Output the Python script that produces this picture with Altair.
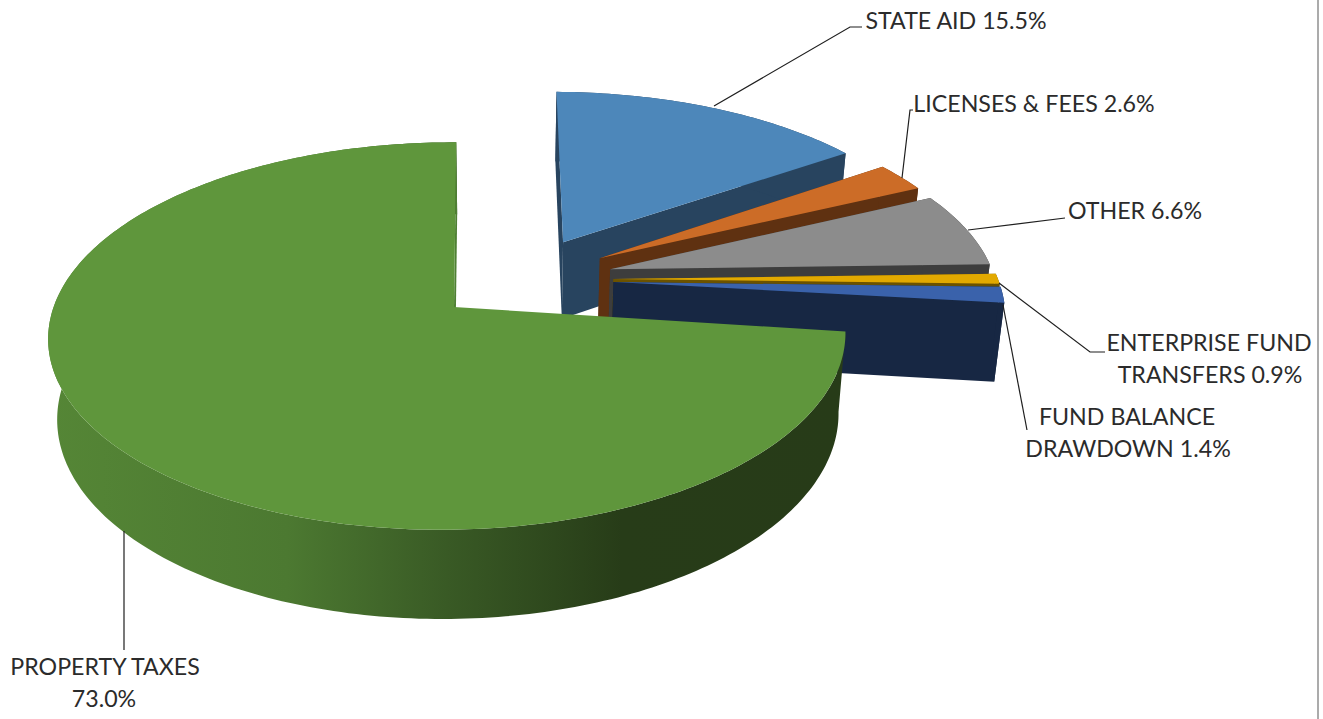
import math
import altair as alt

# Revenue sources, in the clockwise order the slices are laid out from 12 o'clock
names = ["STATE AID", "LICENSES & FEES", "OTHER", "ENTERPRISE FUND TRANSFERS",
         "FUND BALANCE DRAWDOWN", "PROPERTY TAXES"]
shares = [15.5, 2.6, 6.6, 0.9, 1.4, 73.0]
top_colors = ["#4d87ba", "#cc6c27", "#8c8c8c", "#e2a900", "#3a62ab", "#5f963c"]
side_colors = ["#28445f", "#5f3111", "#3d3d3d", "#6b5200", "#172743", "#4f8034"]

# Camera model: a plane homography for the pie top, then a shift for its thickness
W, H = 1323, 719
ORIGIN_X, ORIGIN_Y = 454.0, 307.0
SCALE_X, SCALE_Y, SHEAR = 396.0, 188.0, 5.0
TILT_Y, TILT_X = 0.146, 0.01
EXPLODE = 0.235
# Small lens corrections of each rim relative to its slice's apex
RIM_OFFSET_SMALL = (0.008, 0.012)
RIM_RADIUS_SMALL = (1.003, 1.003)
RIM_OFFSET_MAIN = (-0.006, -0.003)
RIM_RADIUS_MAIN = (0.995, 1.007)


def project(wx, wy):
    w = 1 + TILT_Y * wy + TILT_X * wx
    return ORIGIN_X + (SCALE_X * wx + SHEAR * wy) / w, ORIGIN_Y - SCALE_Y * wy / w


def lower(p):
    return p[0] + (500 - p[0]) * 0.02, p[1] + 78 + (p[1] - 280) * 0.045


def geo(p):
    return [round(p[0], 2), round(-p[1], 2)]


def polygon(points, fill):
    ring = [geo(p) for p in points]
    ring.append(ring[0])
    return {"type": "Feature", "properties": {"fill": fill},
            "geometry": {"type": "Polygon", "coordinates": [ring]}}


def polyline(points):
    return {"type": "Feature", "properties": {},
            "geometry": {"type": "LineString", "coordinates": [geo(p) for p in points]}}


def direction(deg):
    return math.sin(math.radians(deg)), math.cos(math.radians(deg))


# Angular extents follow directly from the shares
spans, start = [], 0.0
for s in shares:
    spans.append((start, start + s * 3.6))
    start += s * 3.6

gx, gy = direction(sum(spans[-1]) / 2)


def slice_parts(i):
    a0, a1 = spans[i]
    dx, dy = direction((a0 + a1) / 2)
    ax, ay = EXPLODE * (dx - gx), EXPLODE * (dy - gy)
    apex = project(ax, ay)
    main = i == len(shares) - 1
    (ox, oy), (rx, ry) = ((RIM_OFFSET_MAIN, RIM_RADIUS_MAIN) if main
                          else (RIM_OFFSET_SMALL, RIM_RADIUS_SMALL))
    n = max(4, int(a1 - a0))
    rim = []
    for k in range(n + 1):
        sx, sy = direction(a0 + (a1 - a0) * k / n)
        rim.append(project(ax + ox + rx * sx, ay + oy + ry * sy))
    top = polygon([apex] + rim, top_colors[i])
    face_a = polygon([apex, rim[0], lower(rim[0]), lower(apex)], side_colors[i])
    face_b = polygon([apex, rim[-1], lower(rim[-1]), lower(apex)], side_colors[i])
    wall = polygon(rim + [lower(p) for p in reversed(rim)], side_colors[i])
    return top, face_a, face_b, wall


back = [polygon([(0, 0), (W, 0), (W, H), (0, H)], "#ffffff")]
for i in range(5):
    top, face_a, face_b, wall = slice_parts(i)
    back += [face_a, face_b, wall, top]
green_top, _, green_face, green_wall = slice_parts(5)

leaders = [
    [(862, 27), (850, 27), (714, 106)],
    [(913, 110), (910, 110), (902, 178)],
    [(1065, 218), (968, 230)],
    [(1105, 352), (1090, 352), (999, 283)],
    [(1027, 430), (1003, 305)],
    [(124, 650), (124, 531)],
]
frame = [[(1318, 0), (1318, H)]]

label_rows = [
    {"text": f"{names[0]} {shares[0]}%", "x": 956, "y": 22},
    {"text": f"{names[1]} {shares[1]}%", "x": 1034, "y": 105},
    {"text": f"{names[2]} {shares[2]}%", "x": 1135, "y": 212},
    {"text": "ENTERPRISE FUND", "x": 1209, "y": 344},
    {"text": f"TRANSFERS {shares[3]}%", "x": 1210, "y": 376},
    {"text": "FUND BALANCE", "x": 1127, "y": 418},
    {"text": f"DRAWDOWN {shares[4]}%", "x": 1128, "y": 450},
    {"text": names[5], "x": 105, "y": 668},
    {"text": f"{shares[5]:.1f}%", "x": 104, "y": 700},
]

identity = dict(type="identity", reflectY=True)

back_layer = (
    alt.Chart(alt.Data(values=back)).mark_geoshape()
    .encode(color=alt.Color("properties.fill:N", scale=None, legend=None))
    .project(**identity)
)
wall_layer = (
    alt.Chart(alt.Data(values=[green_wall]))
    .mark_geoshape(fill=alt.LinearGradient(
        gradient="linear", x1=0, x2=1, y1=0, y2=0,
        stops=[
            alt.GradientStop(color="#558636", offset=0.0),
            alt.GradientStop(color="#4c7931", offset=0.3),
            alt.GradientStop(color="#395a25", offset=0.5),
            alt.GradientStop(color="#273c18", offset=0.72),
            alt.GradientStop(color="#273b18", offset=1.0),
        ]))
    .project(**identity)
)
face_layer = (
    alt.Chart(alt.Data(values=[green_face])).mark_geoshape(fill=side_colors[5])
    .project(**identity)
)
top_layer = (
    alt.Chart(alt.Data(values=[green_top])).mark_geoshape(fill=top_colors[5])
    .project(**identity)
)
leader_layer = (
    alt.Chart(alt.Data(values=[polyline(p) for p in leaders]))
    .mark_geoshape(filled=False, stroke="#1f1f1f", strokeWidth=1.2)
    .project(**identity)
)
frame_layer = (
    alt.Chart(alt.Data(values=[polyline(p) for p in frame]))
    .mark_geoshape(filled=False, stroke="#8f8f8f", strokeWidth=1.5)
    .project(**identity)
)
text_layer = (
    alt.Chart(alt.Data(values=label_rows))
    .mark_text(font="Lato", fontSize=23.2, color="#2b2b2b", align="center", baseline="middle")
    .encode(x=alt.X("x:Q", scale=None), y=alt.Y("y:Q", scale=None), text="text:N")
)

chart = (
    alt.layer(back_layer, wall_layer, face_layer, top_layer, leader_layer, frame_layer, text_layer)
    .properties(width=W, height=H, padding=0, autosize=alt.AutoSizeParams(type="none"),
                background="white")
    .configure_view(stroke=None)
)
chart.save("out.html", embed_options={"renderer": "svg", "actions": False})
